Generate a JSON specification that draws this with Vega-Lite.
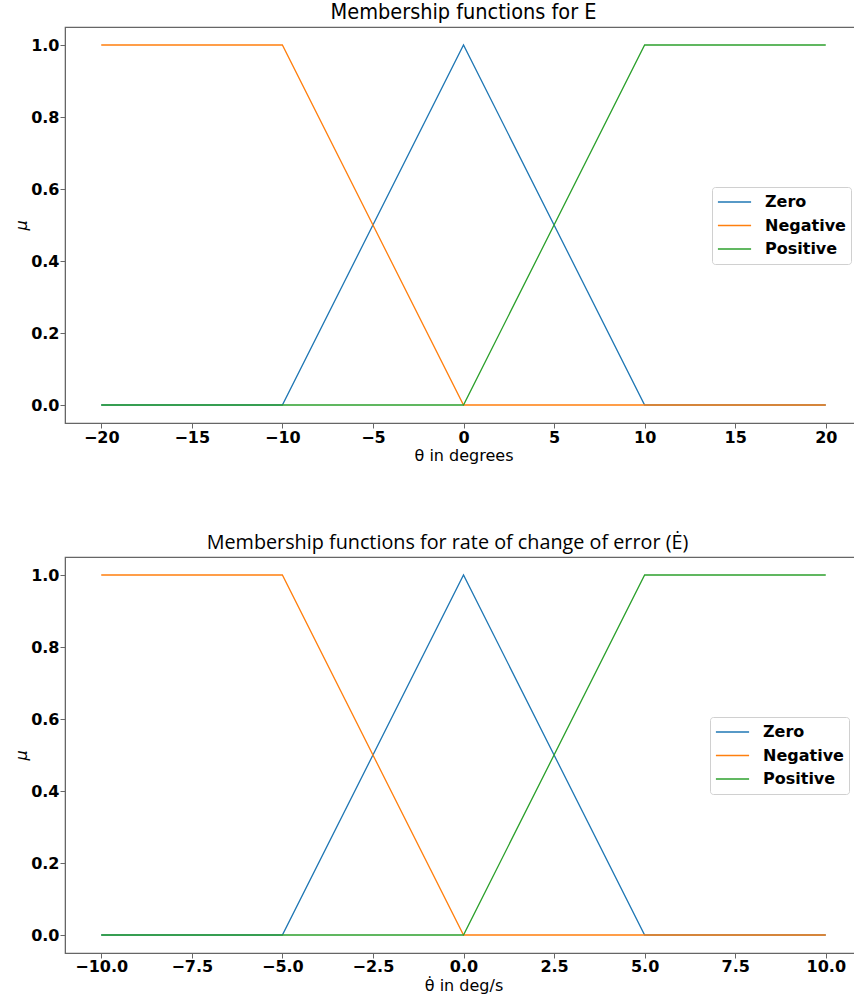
{
  "$schema": "https://vega.github.io/schema/vega-lite/v6.json",
  "autosize": {"type": "pad"},
  "padding": {"left": 13, "top": 0, "right": 0, "bottom": 0},
  "background": "white",
  "spacing": 68,
  "datasets": {
    "error": [
      {"x": -20, "mu": 0, "fn": "Zero"},
      {"x": -10, "mu": 0, "fn": "Zero"},
      {"x": 0, "mu": 1, "fn": "Zero"},
      {"x": 10, "mu": 0, "fn": "Zero"},
      {"x": 20, "mu": 0, "fn": "Zero"},
      {"x": -20, "mu": 1, "fn": "Negative"},
      {"x": -10, "mu": 1, "fn": "Negative"},
      {"x": 0, "mu": 0, "fn": "Negative"},
      {"x": 20, "mu": 0, "fn": "Negative"},
      {"x": -20, "mu": 0, "fn": "Positive"},
      {"x": 0, "mu": 0, "fn": "Positive"},
      {"x": 10, "mu": 1, "fn": "Positive"},
      {"x": 20, "mu": 1, "fn": "Positive"}
    ],
    "rate": [
      {"x": -10, "mu": 0, "fn": "Zero"},
      {"x": -5, "mu": 0, "fn": "Zero"},
      {"x": 0, "mu": 1, "fn": "Zero"},
      {"x": 5, "mu": 0, "fn": "Zero"},
      {"x": 10, "mu": 0, "fn": "Zero"},
      {"x": -10, "mu": 1, "fn": "Negative"},
      {"x": -5, "mu": 1, "fn": "Negative"},
      {"x": 0, "mu": 0, "fn": "Negative"},
      {"x": 10, "mu": 0, "fn": "Negative"},
      {"x": -10, "mu": 0, "fn": "Positive"},
      {"x": 0, "mu": 0, "fn": "Positive"},
      {"x": 5, "mu": 1, "fn": "Positive"},
      {"x": 10, "mu": 1, "fn": "Positive"}
    ]
  },
  "config": {
    "view": {"stroke": "#666", "strokeWidth": 1.2},
    "axis": {
      "grid": false,
      "labelFont": "DejaVu Sans",
      "labelFontWeight": "bold",
      "labelFontSize": 16,
      "labelColor": "black",
      "labelPadding": 1,
      "tickColor": "#666",
      "tickSize": 5,
      "domainColor": "#666",
      "titleFont": "DejaVu Sans",
      "titleFontWeight": "normal",
      "titleFontSize": 16,
      "titleColor": "black"
    },
    "legend": {
      "orient": "none",
      "title": null,
      "strokeColor": "#d0d0d0",
      "fillColor": "white",
      "cornerRadius": 3,
      "padding": 5,
      "labelFont": "DejaVu Sans",
      "labelFontWeight": "bold",
      "labelFontSize": 16,
      "labelColor": "black",
      "labelOffset": 13,
      "clipHeight": 20,
      "rowPadding": 3.5,
      "symbolType": "stroke",
      "symbolSize": 1100,
      "symbolStrokeWidth": 1.6
    },
    "title": {"color": "black", "fontWeight": "normal", "anchor": "middle"}
  },
  "resolve": {"legend": {"color": "independent"}, "scale": {"color": "independent"}},
  "vconcat": [
    {
      "width": 797,
      "height": 396,
      "title": {"text": "Membership functions for E", "font": "DejaVu Sans Condensed", "fontSize": 21.5, "offset": 4},
      "data": {"name": "error"},
      "mark": {"type": "line", "strokeWidth": 1.3},
      "encoding": {
        "x": {
          "field": "x", "type": "quantitative",
          "scale": {"domain": [-22, 22], "nice": false, "zero": false},
          "axis": {"values": [-20, -15, -10, -5, 0, 5, 10, 15, 20], "format": "d", "title": "θ in degrees", "titlePadding": 2, "labelPadding": 1}
        },
        "y": {
          "field": "mu", "type": "quantitative",
          "scale": {"domain": [-0.05, 1.05], "nice": false, "zero": false},
          "axis": {"values": [0, 0.2, 0.4, 0.6, 0.8, 1.0], "format": ".1f", "title": "μ", "titleFontStyle": "italic", "titlePadding": 1}
        },
        "color": {
          "field": "fn", "type": "nominal",
          "scale": {"domain": ["Zero", "Negative", "Positive"], "range": ["#1f77b4", "#ff7f0e", "#2ca02c"]},
          "legend": {"legendX": 647, "legendY": 160}
        }
      }
    },
    {
      "width": 797,
      "height": 396,
      "title": {"text": "Membership functions for rate of change of error (Ė)", "font": "Open Sans", "fontSize": 19.8, "offset": 4, "dx": -16},
      "data": {"name": "rate"},
      "mark": {"type": "line", "strokeWidth": 1.3},
      "encoding": {
        "x": {
          "field": "x", "type": "quantitative",
          "scale": {"domain": [-11, 11], "nice": false, "zero": false},
          "axis": {"values": [-10, -7.5, -5, -2.5, 0, 2.5, 5, 7.5, 10], "format": ".1f", "title": "θ̇ in deg/s", "titlePadding": 3, "labelPadding": 0}
        },
        "y": {
          "field": "mu", "type": "quantitative",
          "scale": {"domain": [-0.05, 1.05], "nice": false, "zero": false},
          "axis": {"values": [0, 0.2, 0.4, 0.6, 0.8, 1.0], "format": ".1f", "title": "μ", "titleFontStyle": "italic", "titlePadding": 1}
        },
        "color": {
          "field": "fn", "type": "nominal",
          "scale": {"domain": ["Zero", "Negative", "Positive"], "range": ["#1f77b4", "#ff7f0e", "#2ca02c"]},
          "legend": {"legendX": 645, "legendY": 160}
        }
      }
    }
  ]
}
